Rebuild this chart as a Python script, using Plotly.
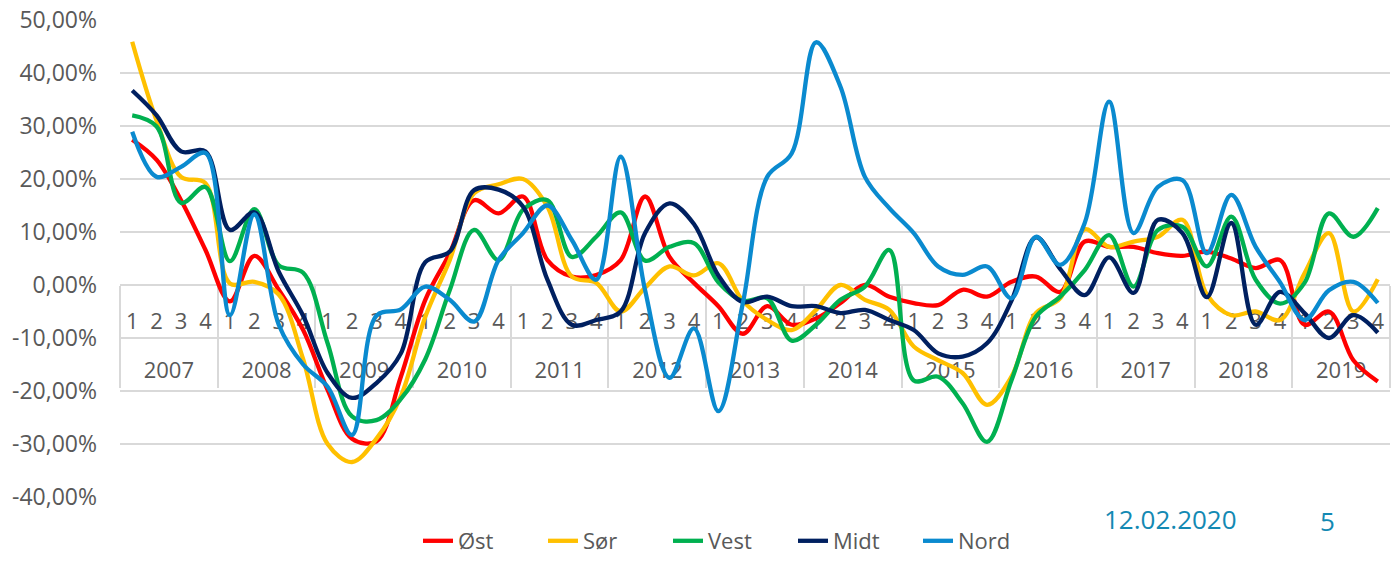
import plotly.graph_objects as go

years = [str(y) for y in range(2007, 2020)]
quarters = ["1", "2", "3", "4"]

ost = [27.4, 23.6, 16, 6.6, -3.1, 5.5, -0.9, -8.5, -19.8, -29, -29.5, -17.3, -2.8, 6, 16, 13.5,
       16.7, 4.7, 1.6, 1.9, 4.7, 16.7, 5.3, 0.4, -4, -9.2, -4, -7.5, -6.3, -3.4, 0, -2.2,
       -3.4, -3.8, -0.9, -2.2, 0.6, 1.6, -1.3, 8.2, 7.2, 7.2, 6, 5.5, 6.3, 5, 3.2, 4.7,
       -7.5, -5, -14.2, -18.2]
sor = [45.9, 31, 20.4, 19.2, 0.3, 0.6, -1.8, -14, -30, -33.4, -29, -21, -6, 4.7, 17.3, 19,
       20, 14.8, 1.6, 0.4, -5, -0.5, 3.5, 1.8, 4.1, -3, -6.6, -8.5, -4.7, 0, -2.8, -4.7,
       -11.6, -14.2, -16.6, -22.6, -17.3, -5.3, -2.5, 10.5, 7.2, 8.2, 9.1, 12.3, -1.8, -5.7, -5, -6.6,
       2.2, 9.8, -5, 1.1]
vest = [32, 29.9, 15.5, 18.5, 4.5, 14.3, 3.7, 2.3, -11, -24.8, -25.5, -21.5, -14, -1, 10.4, 4.7,
        14.2, 16, 5.3, 9.1, 13.7, 4.6, 7.2, 7.9, 0.5, -3, -2.5, -10.5, -7.5, -2.8, -0.3, 6.6,
        -18, -17.3, -22.3, -29.6, -18, -6, -2.2, 2.8, 9.4, -0.3, 10.4, 11, 3.5, 12.9, 1, -3.5,
        0.4, 13.5, 9.1, 14.5]
midt = [36.7, 32, 25.2, 25.2, 10.4, 13.7, 2.5, -5.8, -16.6, -21.3, -18.5, -12.9, 4.3, 6.3, 17.9, 18,
        14.8, 1, -7.5, -6.6, -5, 9.8, 15.4, 11.5, 1.8, -3.2, -2.2, -4, -4, -5.3, -4.7, -6.6,
        -8.5, -12.9, -13.5, -11, -3, 9, 3, -1.9, 5.2, -1.5, 12.3, 9.8, -2.3, 11.7, -7.5, -1.3,
        -5.3, -10, -5.7, -9]
nord = [28.9, 20.4, 22.3, 24.9, -5.7, 13.3, -7.5, -15, -19.2, -28.3, -5.8, -4.6, -0.3, -2.8, -6.9, 4.7,
        9.8, 15, 8.5, 1, 24.2, -1, -17.5, -8.2, -23.8, -3.5, 20.4, 24.8, 45.8, 37.4, 20.4, 14.5,
        9.8, 3.5, 1.9, 3.5, -2.5, 9.1, 3.8, 11.7, 34.6, 9.8, 18.5, 19.8, 6, 17, 7.2, 0.5,
        -6.6, -1, 0.6, -3.4]

series_names = ["Øst", "Sør", "Vest", "Midt", "Nord"]
series_values = [ost, sor, vest, midt, nord]
series_colors = ["#FF0000", "#FFC000", "#00B050", "#002060", "#0A8ACF"]

y_ticks = [-40, -30, -20, -10, 0, 10, 20, 30, 40, 50]
y_ticktext = [("%.2f" % v).replace(".", ",") + "%" for v in y_ticks]

# one category per quarter; quarter number shown as tick text, year shown on a second axis
periods = [f"{y}-{q}" for y in years for q in quarters]
period_quarter = [q for _ in years for q in quarters]
n = len(periods)
year_centers = [i * len(quarters) + (len(quarters) - 1) / 2 for i in range(len(years))]
year_bounds = [i * len(quarters) - 0.5 for i in range(len(years) + 1)]

fig = go.Figure()
for name, vals, col in zip(series_names, series_values, series_colors):
    fig.add_trace(go.Scatter(
        x=periods, y=vals, name=name, mode="lines",
        line=dict(color=col, width=4.3, shape="spline", smoothing=1.0),
        hoverinfo="skip"))
# empty trace so that the year axis (x2) exists
fig.add_trace(go.Scatter(x=[], y=[], xaxis="x2", yaxis="y", showlegend=False,
                         hoverinfo="skip", mode="lines"))

grid = "#D9D9D9"
txt = "#595959"
font_family = "Open Sans, Noto Sans, sans-serif"
zero_pos = 40 / 90

fig.update_layout(
    width=1394, height=562,
    margin=dict(l=120, r=4, t=20, b=65, autoexpand=False),
    paper_bgcolor="white", plot_bgcolor="white",
    font=dict(family=font_family, color=txt, size=22),
    showlegend=True,
    legend=dict(orientation="h", xref="container", yref="container",
                x=418 / 1394, xanchor="left", y=0.0, yanchor="bottom",
                font=dict(size=22, color=txt), entrywidth=80, bgcolor="rgba(0,0,0,0)"),
    xaxis=dict(
        type="category", categoryorder="array", categoryarray=periods,
        anchor="free", position=zero_pos, range=[-0.5, n - 0.5],
        tickmode="array", tickvals=periods, ticktext=period_quarter,
        showline=True, linecolor=grid, linewidth=1.5, layer="below traces",
        showgrid=False, ticks="", ticklabelstandoff=17, automargin=False,
        tickfont=dict(size=22, color=txt, family=font_family),
    ),
    xaxis2=dict(
        overlaying="x", anchor="free", position=zero_pos, side="bottom",
        type="linear", range=[-0.5, n - 0.5], layer="below traces",
        tickmode="array", tickvals=year_centers, ticktext=years,
        showline=False, showgrid=False, zeroline=False, ticks="", ticklabelstandoff=70,
        automargin=False,
        tickfont=dict(size=22, color=txt, family=font_family),
        minor=dict(tickmode="array", tickvals=year_bounds, ticks="outside", ticklen=102,
                   tickcolor=grid, tickwidth=1.5, showgrid=False),
    ),
    yaxis=dict(
        range=[-40, 50], tickvals=y_ticks, ticktext=y_ticktext,
        showgrid=True, gridcolor=grid, gridwidth=1.5, zeroline=False,
        showline=False, ticks="", ticklabelstandoff=22, automargin=False,
        tickfont=dict(size=23, color=txt, family=font_family),
    ),
    annotations=[
        dict(text="12.02.2020", xref="paper", yref="paper", x=(1170 - 120) / 1270,
             y=(497 - 519) / 477, xanchor="center", yanchor="middle",
             showarrow=False, font=dict(size=26, color="#1389B3", family=font_family)),
        dict(text="5", xref="paper", yref="paper", x=(1327.5 - 120) / 1270,
             y=(497 - 521) / 477, xanchor="center", yanchor="middle",
             showarrow=False, font=dict(size=26, color="#1389B3", family=font_family)),
    ],
)

fig.write_html("out.html", config={"displayModeBar": False},
               post_script="document.body.style.margin='0px';document.body.style.overflow='hidden';")
